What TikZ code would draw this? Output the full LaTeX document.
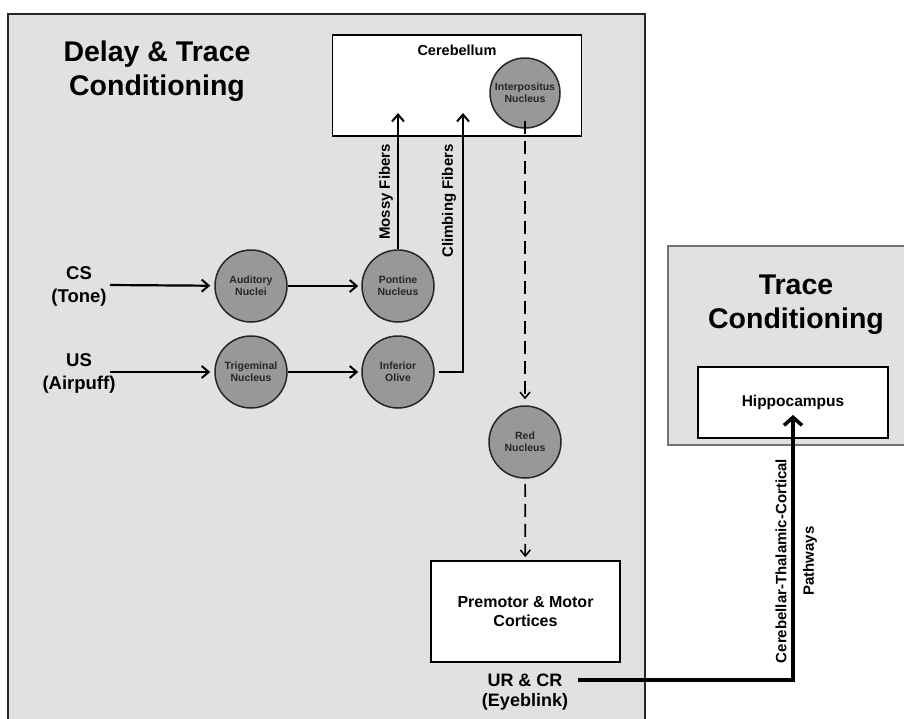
\documentclass[tikz,border=0pt]{standalone}
\usepackage{fontspec}
\setmainfont{Liberation Sans}
\usetikzlibrary{arrows.meta}
\definecolor{panel}{HTML}{E1E1E1}
\definecolor{nucfill}{HTML}{989898}
\begin{document}
\begin{tikzpicture}[x=1pt,y=-1pt,
  panelbox/.style={draw=black!85, line width=1.2pt, fill=panel},
  panelboxlight/.style={draw=black!55, line width=1.2pt, fill=panel},
  whitebox/.style={draw=black, line width=1.8pt, fill=white, inner sep=0pt, align=center},
  nuc/.style={circle, draw=black!85, line width=1.5pt, fill=nucfill, minimum size=72pt, inner sep=0pt, align=center, font=\fontsize{10.5}{12}\selectfont\bfseries, text=black!85},
  lbl/.style={align=center, font=\fontsize{18.5}{23}\selectfont\bfseries},
  boxtxt/.style={align=center, font=\fontsize{15.5}{19}\selectfont\bfseries},
  ttl/.style={align=center, font=\fontsize{28.5}{34}\selectfont\bfseries},
  fib/.style={font=\fontsize{15}{18}\selectfont\bfseries, rotate=90, inner sep=0pt},
  conn/.style={line width=2.2pt, -{Straight Barb[length=7pt,width=12pt,line width=2pt]}},
  dconn/.style={line width=1.7pt, dash pattern=on 13pt off 7pt, -{Straight Barb[length=6pt,width=10pt,line width=1.5pt]}},
  bigconn/.style={line width=4.5pt, -{Straight Barb[length=8pt,width=18pt,line width=3.5pt]}},
]
\useasboundingbox (0,0) rectangle (904,718);
\clip (0,0) rectangle (904,718);

% panels
\draw[panelbox] (8,14) rectangle (645,740);
\draw[panelboxlight] (668,246) rectangle (920,445);

% titles
\node[ttl] (t1) at (157,71) {Delay \& Trace\\Conditioning};
\node[ttl] (t2) at (796,305) {Trace\\Conditioning};

% boxes
\node[whitebox, minimum width=249pt, minimum height=101pt] (cereb) at (457,85.5) {};
\node[boxtxt, font=\fontsize{14.5}{18}\selectfont\bfseries] (cerebtxt) at (457,50) {Cerebellum};
\node[whitebox, boxtxt, minimum width=190pt, minimum height=71pt] (hip) at (793,402.5) {Hippocampus};
\node[whitebox, boxtxt, minimum width=189pt, minimum height=101pt, font=\fontsize{16}{19}\selectfont\bfseries] (pm) at (525.5,611.5) {Premotor \& Motor\\Cortices};

% nuclei
\node[nuc, minimum size=70pt] (ip) at (525,93) {Interpositus\\Nucleus};
\node[nuc] (aud) at (251,286) {Auditory\\Nuclei};
\node[nuc] (pont) at (398,286) {Pontine\\Nucleus};
\node[nuc] (tri) at (251,372) {Trigeminal\\Nucleus};
\node[nuc] (olive) at (398,372) {Inferior\\Olive};
\node[nuc] (red) at (525,442) {Red\\Nucleus};

% input / output labels
\node[lbl] (cs) at (79,286) {CS\\(Tone)};
\node[lbl] (us) at (79,373) {US\\(Airpuff)};
\node[lbl, font=\fontsize{18}{20}\selectfont\bfseries] (ur) at (525,692) {UR \& CR\\(Eyeblink)};

\coordinate (csout) at (110,285);
\coordinate (usout) at (110,372);
\coordinate (mossyend) at (398,113);
\coordinate (climbend) at (463,113);
\coordinate (urout) at (578,680);
\coordinate (hipin) at (793,415);

% connectors
\draw[conn, shorten >=4pt] (csout) -- (aud);
\draw[conn, shorten >=4pt] (usout) -- (tri);
\draw[conn, shorten >=3pt] (aud) -- (pont);
\draw[conn, shorten >=3pt] (tri) -- (olive);
\draw[conn] (pont.north) -- (mossyend);
\draw[conn, shorten <=4pt] (olive.east) -| (climbend);
\draw[dconn, shorten <=-8pt, shorten >=6pt] (ip) -- (red);
\draw[dconn, shorten <=5pt, shorten >=3pt] (red) -- (pm);
\draw[bigconn] (urout) -| (hipin);

% fibre labels
\node[fib] (mossy) at (386,192) {Mossy Fibers};
\node[fib] (climb) at (449,201) {Climbing Fibers};
\node[fib] (ctc) at (781,561) {Cerebellar-Thalamic-Cortical};
\node[fib] (pw) at (810,561) {Pathways};
\end{tikzpicture}
\end{document}
